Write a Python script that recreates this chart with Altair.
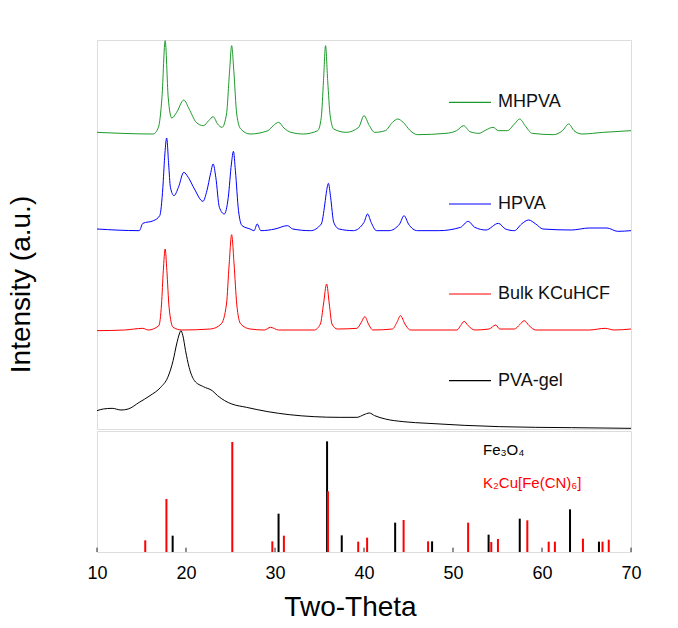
import altair as alt
import pandas as pd

FONT = "Liberation Sans"

# ---------------- XRD patterns (Two-Theta in degrees, intensity in a.u.) ----------------
mhpva_theta = [10.0, 16.3, 16.9, 17.3, 17.66, 18.0, 18.4, 18.95, 19.75, 20.35, 21.15, 21.95,
               22.55, 23.05, 23.55, 24.05, 24.55, 24.9, 25.13, 25.37, 25.7, 26.15, 27.2, 29.2,
               29.8, 30.4, 31.0, 31.8, 33.2, 34.8, 35.2, 35.45, 35.68, 35.92, 36.2, 36.6, 38.0,
               39.4, 40.0, 40.6, 41.2, 42.4, 43.2, 43.8, 44.4, 45.2, 46.0, 49.2, 50.4, 51.2,
               51.9, 52.9, 53.7, 54.5, 55.1, 56.1, 56.9, 57.5, 58.1, 58.9, 61.3, 62.3, 63.0,
               63.6, 64.5, 66.9, 70.0]
mhpva_int = [890, 885, 905, 995, 1165, 995, 933, 950, 987, 960, 920, 910,
             925, 937, 915, 905, 945, 1075, 1150, 1075, 945, 900, 885, 895,
             910, 920, 903, 890, 885, 895, 935, 1045, 1150, 1045, 940, 900, 890,
             905, 940, 910, 890, 895, 920, 930, 920, 895, 883, 887, 895, 910,
             892, 887, 897, 905, 895, 895, 915, 930, 910, 887, 883, 895, 915,
             895, 885, 890, 895]

hpva_theta = [10.0, 14.75, 15.15, 16.35, 17.05, 17.4, 17.6, 17.83, 18.05, 18.25, 18.65, 19.15,
              19.75, 20.25, 20.95, 21.9, 22.35, 22.75, 23.05, 23.35, 23.75, 24.3, 24.75, 25.1,
              25.33, 25.55, 25.9, 26.3, 27.2, 27.65, 28.0, 28.4, 30.0, 31.4, 32.0, 34.0, 35.2,
              35.6, 35.8, 36.0, 36.25, 36.6, 37.2, 38.8, 40.0, 40.4, 40.8, 41.4, 42.8, 44.0,
              44.5, 45.0, 46.0, 48.4, 50.85, 51.7, 52.45, 53.7, 55.1, 55.9, 56.9, 57.7, 58.5,
              59.3, 60.1, 63.3, 65.3, 67.3, 68.5, 70.0]
hpva_int = [600, 595, 617, 625, 640, 725, 815, 873, 795, 725, 700, 725,
            770, 755, 720, 683, 715, 765, 795, 755, 665, 645, 695, 795,
            833, 775, 655, 610, 600, 595, 615, 595, 600, 610, 600, 595, 615,
            675, 715, 737, 695, 620, 600, 595, 620, 645, 620, 595, 595, 615,
            640, 615, 595, 595, 605, 623, 605, 597, 617, 600, 595, 615, 627,
            615, 600, 597, 603, 603, 593, 595]

bulk_theta = [10.0, 13.1, 15.15, 15.75, 16.95, 17.25, 17.45, 17.66, 17.85, 18.1, 18.55, 19.55,
              22.75, 23.95, 24.55, 24.85, 25.13, 25.4, 25.7, 26.15, 27.2, 28.8, 29.5, 30.4,
              34.4, 35.1, 35.45, 35.8, 36.1, 36.4, 37.0, 39.2, 39.7, 40.1, 40.5, 41.0, 43.2,
              43.7, 44.1, 44.6, 45.2, 50.45, 50.85, 51.25, 51.7, 52.45, 54.05, 54.8, 55.25,
              56.9, 57.5, 58.0, 58.55, 59.3, 65.3, 67.1, 68.1, 70.0]
bulk_int = [295, 297, 302, 297, 310, 375, 475, 540, 475, 365, 305, 297,
            300, 315, 375, 495, 583, 495, 375, 315, 300, 297, 305, 297,
            297, 315, 375, 435, 375, 315, 300, 302, 320, 337, 315, 297, 300,
            320, 340, 315, 297, 297, 310, 323, 310, 297, 300, 312, 300,
            300, 313, 325, 310, 297, 297, 302, 297, 300]

pva_theta = [10.0, 10.7, 11.7, 12.7, 13.5, 14.75, 15.95, 17.15, 17.95, 18.55, 18.95, 19.25,
             19.43, 19.65, 19.95, 20.35, 20.95, 21.95, 22.95, 23.55, 24.35, 25.15, 26.8, 29.2,
             31.6, 34.4, 37.2, 39.2, 40.0, 40.6, 41.2, 42.4, 44.4, 47.2, 51.25, 55.25, 59.3,
             63.3, 70.0]
pva_int = [55, 60, 62, 57, 60, 80, 100, 125, 155, 205, 255, 285,
           295, 280, 235, 185, 145, 127, 115, 100, 85, 75, 65, 52,
           43, 37, 35, 35, 43, 48, 40, 30, 22, 17, 11, 7, 5,
           4, 2]

series_names = ["MHPVA", "HPVA", "Bulk KCuHCF", "PVA-gel"]
series_colors = ["#1c9a2a", "#0000ff", "#ff0000", "#000000"]
series_theta = [mhpva_theta, hpva_theta, bulk_theta, pva_theta]
series_int = [mhpva_int, hpva_int, bulk_int, pva_int]

# in-plot legend placement (data units)
legend_line_start = 49.55
legend_line_end = 54.27
legend_text_x = 55.06
legend_y = [980, 675, 405, 145]

# ---------------- reference stick patterns ----------------
fe3o4_theta = [18.5, 30.4, 35.85, 37.5, 43.5, 47.65, 54.0, 57.5, 63.15, 66.4]
fe3o4_int = [49, 115, 332, 50, 88, 32, 52, 100, 128, 31]
kcu_theta = [15.42, 17.8, 25.2, 29.7, 31.0, 35.95, 39.35, 40.35, 44.45, 47.2, 51.7, 54.3,
             55.05, 58.35, 60.75, 61.45, 64.6, 66.8, 67.5]
kcu_int = [35, 159, 330, 32, 49, 182, 31, 43, 96, 32, 88, 30,
           39, 95, 31, 31, 40, 31, 37]
phase_names = ["Fe\u2083O\u2084", "K\u2082Cu[Fe(CN)\u2086]"]
phase_colors = ["#000000", "#ff0000"]
phase_label_y = [306, 207]
phase_label_x = 53.37

x_ticks = [10, 20, 30, 40, 50, 60, 70]

# ---------------- tables ----------------
rows = []
for name, xs, ys in zip(series_names, series_theta, series_int):
    for x, y in zip(xs, ys):
        rows.append({"series": name, "theta": x, "intensity": y})
df = pd.DataFrame(rows)

leg_df = pd.DataFrame({
    "series": series_names,
    "theta": [legend_line_start] * 4,
    "theta_end": [legend_line_end] * 4,
    "intensity": legend_y,
})
leg_txt_df = pd.DataFrame({
    "series": series_names,
    "theta": [legend_text_x] * 4,
    "intensity": legend_y,
})

stick_rows = []
for name, xs, ys in zip(phase_names, [fe3o4_theta, kcu_theta], [fe3o4_int, kcu_int]):
    for x, y in zip(xs, ys):
        stick_rows.append({"phase": name, "theta": x, "rel": y, "base": 0})
sticks_df = pd.DataFrame(stick_rows)

phase_txt_df = pd.DataFrame({
    "phase": phase_names,
    "theta": [phase_label_x] * 2,
    "rel": phase_label_y,
})
tick_df = pd.DataFrame({"theta": x_ticks, "base": [0] * len(x_ticks), "rel": [13] * len(x_ticks)})

x_scale = alt.Scale(domain=[10, 70], nice=False, zero=False)
color_scale = alt.Scale(domain=series_names, range=series_colors)
phase_scale = alt.Scale(domain=phase_names, range=phase_colors)
y_top_scale = alt.Scale(domain=[0, 1167], nice=False, zero=False)
y_bot_scale = alt.Scale(domain=[0, 363], nice=False, zero=False)

y_top_axis = alt.Axis(title="Intensity (a.u.)", labels=False, ticks=False, domain=False,
                      grid=False, titleFontSize=28, titleFont=FONT, titleFontWeight="normal",
                      titleColor="black", titleX=-62, titleY=244)

lines = alt.Chart(df).mark_line(strokeWidth=1, clip=True, interpolate="monotone").encode(
    x=alt.X("theta:Q", scale=x_scale, axis=None),
    y=alt.Y("intensity:Q", scale=y_top_scale, axis=y_top_axis),
    color=alt.Color("series:N", scale=color_scale, legend=None),
    detail="series:N",
)
leg_lines = alt.Chart(leg_df).mark_rule(strokeWidth=1.2).encode(
    x=alt.X("theta:Q", scale=x_scale, axis=None),
    x2="theta_end:Q",
    y=alt.Y("intensity:Q", scale=y_top_scale, axis=y_top_axis),
    color=alt.Color("series:N", scale=color_scale, legend=None),
)
leg_text = alt.Chart(leg_txt_df).mark_text(
    align="left", baseline="middle", fontSize=18, font=FONT, color="#111111"
).encode(
    x=alt.X("theta:Q", scale=x_scale, axis=None),
    y=alt.Y("intensity:Q", scale=y_top_scale, axis=y_top_axis),
    text="series:N",
)
top = alt.layer(lines, leg_lines, leg_text).properties(width=534, height=389)

x_axis = alt.Axis(values=x_ticks, title="Two-Theta", labelFontSize=18, labelFont=FONT,
                  labelColor="black", ticks=False, domain=False, grid=False,
                  labelPadding=12, titleFont=FONT, titleFontSize=28,
                  titleFontWeight="normal", titleColor="black", titlePadding=11,
                  titleX=253, labelFlush=False)

sticks = alt.Chart(sticks_df).mark_rule(strokeWidth=2).encode(
    x=alt.X("theta:Q", scale=x_scale, axis=x_axis),
    y=alt.Y("rel:Q", scale=y_bot_scale, axis=None),
    y2="base:Q",
    color=alt.Color("phase:N", scale=phase_scale, legend=None),
)
inner_ticks = alt.Chart(tick_df).mark_rule(strokeWidth=1, color="#222222").encode(
    x=alt.X("theta:Q", scale=x_scale, axis=x_axis),
    y=alt.Y("rel:Q", scale=y_bot_scale, axis=None),
    y2="base:Q",
)
phase_text = alt.Chart(phase_txt_df).mark_text(
    align="left", baseline="middle", fontSize=15, font=FONT
).encode(
    x=alt.X("theta:Q", scale=x_scale, axis=x_axis),
    y=alt.Y("rel:Q", scale=y_bot_scale, axis=None),
    text="phase:N",
    color=alt.Color("phase:N", scale=phase_scale, legend=None),
)
bottom = alt.layer(sticks, inner_ticks, phase_text).properties(width=534, height=121)

chart = alt.vconcat(top, bottom, spacing=0).resolve_scale(
    color="independent"
).properties(
    padding={"left": 6, "top": 39, "right": 5, "bottom": 5}
).configure_view(
    stroke="#222222", strokeWidth=1.5
).configure(background="white")

chart.save("out.html", embed_options={"renderer": "svg", "actions": False})
